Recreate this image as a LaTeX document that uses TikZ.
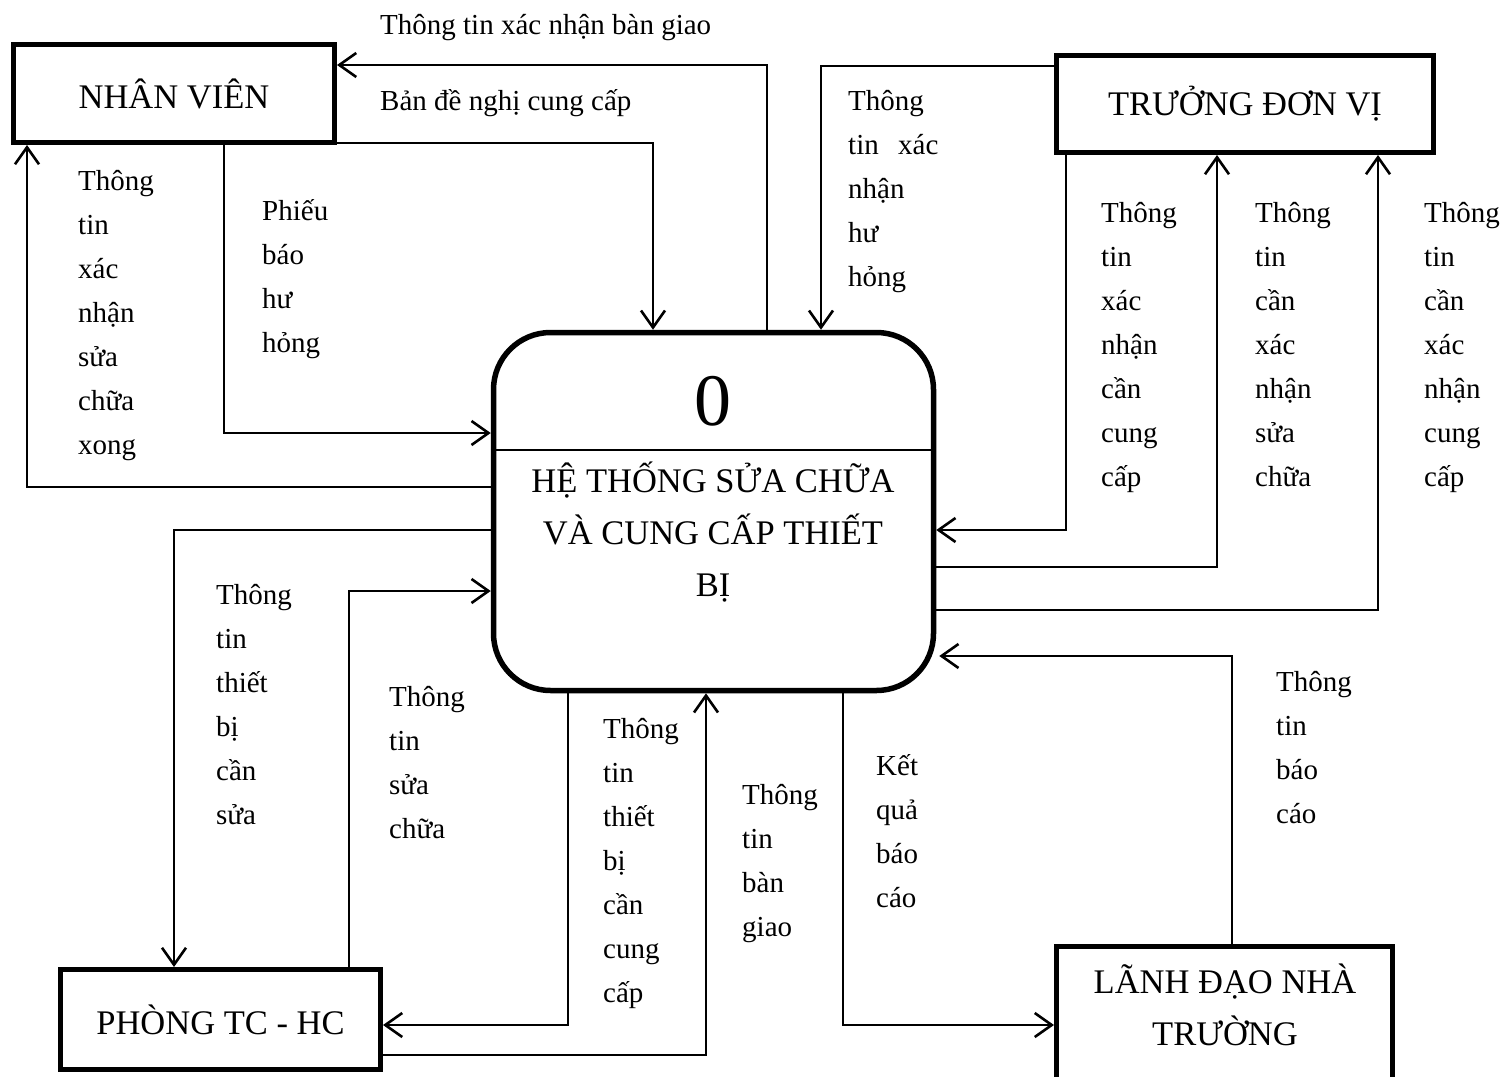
\documentclass[tikz,border=0pt]{standalone}
\usepackage{fontspec}
\setmainfont{Liberation Serif}
\usetikzlibrary{arrows.meta}
\newcommand\flowfont{\fontsize{29}{44}\selectfont}
\newcommand\entfont{\fontsize{34.5}{52}\selectfont}
\newcommand\numfont{\fontsize{74}{80}\selectfont}
\begin{document}
\begin{tikzpicture}[x=1pt,y=-1pt,
	>={Straight Barb[length=17pt,width=24pt]},
	flow/.style={->,line width=2.6pt},
	entity/.style={draw,line width=5pt,inner sep=0pt,font=\entfont},
	lbl/.style={font=\flowfont,align=left,text width=100pt,inner sep=0pt,anchor=base west},
	txt/.style={font=\flowfont,inner sep=0pt,anchor=base west}]
\useasboundingbox (0,0) rectangle (1504,1076);
\node[entity,minimum width=321,minimum height=98] (nv) at (174,93.5) {NHÂN VIÊN};
\node[entity,minimum width=377,minimum height=97] (tdv) at (1245,104) {TRƯỞNG ĐƠN VỊ};
\node[entity,minimum width=320,minimum height=100] (pc) at (220.5,1019.5) {PHÒNG TC - HC};
\node[entity,minimum width=336,minimum height=160,anchor=north] (ld) at (1224.5,944) {};
\node[font=\entfont,align=center] (ldname) at (1225,1005) {LÃNH ĐẠO NHÀ\\TRƯỜNG};
\node[draw,line width=5.5pt,rounded corners=57pt,minimum width=440,minimum height=358] (sys) at (713.5,511.5) {};
\node[font=\numfont] (num) at (713,401) {0};
\coordinate (dv) at (713,450);
\draw[line width=2pt] (sys.west |- dv) -- (sys.east |- dv);
\node[font=\entfont,align=center] (sysname) at (713,532) {HỆ THỐNG SỬA CHỮA\\VÀ CUNG CẤP THIẾT\\BỊ};
\coordinate (k1) at (767,65);
\coordinate (k2) at (653,143);
\coordinate (k3) at (224,433);
\coordinate (k4) at (27,487);
\coordinate (k5) at (821,66);
\coordinate (k6) at (1066,530);
\coordinate (k7) at (1217,567);
\coordinate (k8) at (1378,610);
\coordinate (k9) at (174,530);
\coordinate (k10) at (349,591);
\coordinate (k11) at (568,1025);
\coordinate (k12) at (706,1055);
\coordinate (k13) at (843,1025);
\coordinate (k14) at (1232,656);
\draw[flow] (sys.north -| k1) |- (nv.east |- k1);
\draw[flow] (nv.east |- k2) -| (sys.north -| k2);
\draw[flow] (nv.south -| k3) |- (sys.west |- k3);
\draw[flow] (sys.west |- k4) -| (nv.south -| k4);
\draw[flow] (tdv.west |- k5) -| (sys.north -| k5);
\draw[flow] (tdv.south -| k6) |- (sys.east |- k6);
\draw[flow] (sys.east |- k7) -| (tdv.south -| k7);
\draw[flow] (sys.east |- k8) -| (tdv.south -| k8);
\draw[flow] (sys.west |- k9) -| (pc.north -| k9);
\draw[flow] (pc.north -| k10) |- (sys.west |- k10);
\draw[flow] (sys.south -| k11) |- (pc.east |- k11);
\draw[flow] (pc.east |- k12) -| (sys.south -| k12);
\draw[flow] (sys.south -| k13) |- (ld.west |- k13);
\draw[flow,shorten >=3pt] (ld.north -| k14) |- (sys.east |- k14);
\node[txt] (t1) at (380,34) {Thông tin xác nhận bàn giao};
\node[txt] (t2) at (380,110) {Bản đề nghị cung cấp};
\node[lbl] (t3) at (78,190) {Thông\\tin\\xác\\nhận\\sửa\\chữa\\xong};
\node[lbl] (t4) at (262,220) {Phiếu\\báo\\hư\\hỏng};
\node[lbl] (t5) at (848,110) {Thông\\tin\ \ xác\\nhận\\hư\\hỏng};
\node[lbl] (t6) at (1101,222) {Thông\\tin\\xác\\nhận\\cần\\cung\\cấp};
\node[lbl] (t7) at (1255,222) {Thông\\tin\\cần\\xác\\nhận\\sửa\\chữa};
\node[lbl] (t8) at (1424,222) {Thông\\tin\\cần\\xác\\nhận\\cung\\cấp};
\node[lbl] (t9) at (216,604) {Thông\\tin\\thiết\\bị\\cần\\sửa};
\node[lbl] (t10) at (389,706) {Thông\\tin\\sửa\\chữa};
\node[lbl] (t11) at (603,738) {Thông\\tin\\thiết\\bị\\cần\\cung\\cấp};
\node[lbl] (t12) at (742,804) {Thông\\tin\\bàn\\giao};
\node[lbl] (t13) at (876,775) {Kết\\quả\\báo\\cáo};
\node[lbl] (t14) at (1276,691) {Thông\\tin\\báo\\cáo};
\end{tikzpicture}
\end{document}
